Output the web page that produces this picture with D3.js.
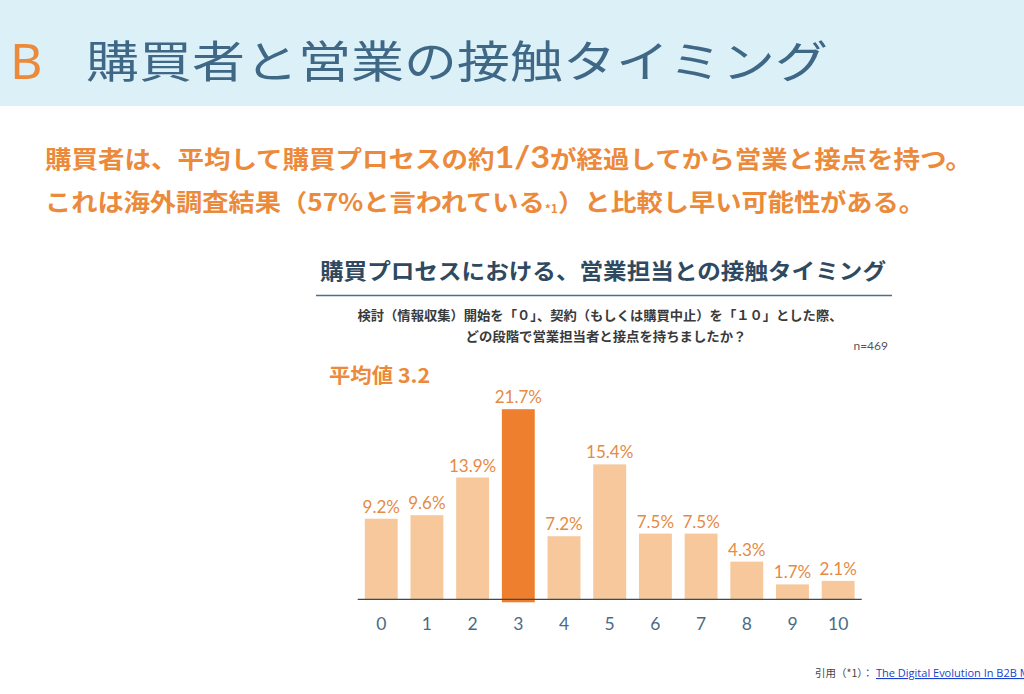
<!DOCTYPE html>
<html><head><meta charset="utf-8">
<script src="https://cdn.jsdelivr.net/npm/d3@7"></script>
<style>
html,body{margin:0;padding:0;background:#fff;overflow:hidden;}
svg{display:block;}
</style></head>
<body>
<svg id="c" width="1024" height="694"></svg>
<script>
const categories = ["0","1","2","3","4","5","6","7","8","9","10"];
const values = [9.2, 9.6, 13.9, 21.7, 7.2, 15.4, 7.5, 7.5, 4.3, 1.7, 2.1];
const valueLabels = ["9.2%","9.6%","13.9%","21.7%","7.2%","15.4%","7.5%","7.5%","4.3%","1.7%","2.1%"];
const highlightCategory = "3";
const headerLetter = "B";
const headerTitle = "購買者と営業の接触タイミング";
const leadLines = ["購買者は、平均して購買プロセスの約", "これは海外調査結果（57%と言われている"];
const chartTitle = "購買プロセスにおける、営業担当との接触タイミング";
const questionLines = ["検討（情報収集）開始を「０」、契約（もしくは購買中止）を「１０」とした際、", "どの段階で営業担当者と接点を持ちましたか？"];
const sampleNote = "n=469";
const meanNote = "平均値 3.2";

const svg = d3.select("#c");
const JP = "'Noto Sans CJK JP','Noto Sans',sans-serif";
const NUM = "Lato,'Noto Sans CJK JP',sans-serif";
const ORANGE = "#ec8a3c";

// Header banner
svg.append("rect").attr("x",0).attr("y",0).attr("width",1024).attr("height",106).attr("fill","#dcf0f8");
svg.append("text").attr("x",10).attr("y",79).attr("font-family","'Noto Sans','Open Sans',sans-serif")
  .attr("font-size",50).attr("fill","#ec8a3c").text(headerLetter);
svg.append("text").attr("x",86).attr("y",78).attr("font-family",JP).attr("font-size",44)
  .attr("fill","#3f6886").attr("textLength",742).attr("lengthAdjust","spacingAndGlyphs").text(headerTitle);

// Lead text
const l1 = svg.append("text").attr("x",45).attr("y",168).attr("font-family",JP).attr("font-weight","bold")
  .attr("font-size",24).attr("fill",ORANGE).attr("textLength",927).attr("lengthAdjust","spacingAndGlyphs");
l1.append("tspan").text(leadLines[0]);
l1.append("tspan").attr("font-size",31).attr("font-family",NUM).text("1/3");
l1.append("tspan").text("が経過してから営業と接点を持つ。");
const l2 = svg.append("text").attr("x",45).attr("y",211).attr("font-family",JP).attr("font-weight","bold")
  .attr("font-size",24).attr("fill",ORANGE).attr("textLength",880).attr("lengthAdjust","spacingAndGlyphs");
l2.append("tspan").text(leadLines[1]);
l2.append("tspan").attr("font-size",11).attr("dy",2).text("*1");
l2.append("tspan").attr("dy",-2).text("）と比較し早い可能性がある。");

// Chart title
svg.append("text").attr("x",603).attr("y",279).attr("text-anchor","middle").attr("font-family",JP)
  .attr("font-weight","bold").attr("font-size",22).attr("fill","#2f4a60")
  .attr("textLength",566).attr("lengthAdjust","spacingAndGlyphs").text(chartTitle);
svg.append("line").attr("x1",316).attr("x2",892).attr("y1",295.5).attr("y2",295.5)
  .attr("stroke","#4d6f8a").attr("stroke-width",1.5);
svg.append("text").attr("x",600).attr("y",320).attr("text-anchor","middle").attr("font-family",JP)
  .attr("font-size",13).attr("font-weight","bold").attr("fill","#3a3a3a")
  .attr("textLength",485).attr("lengthAdjust","spacingAndGlyphs").text(questionLines[0]);
svg.append("text").attr("x",606).attr("y",341).attr("text-anchor","middle").attr("font-family",JP)
  .attr("font-size",13).attr("font-weight","bold").attr("fill","#3a3a3a")
  .attr("textLength",281).attr("lengthAdjust","spacingAndGlyphs").text(questionLines[1]);
svg.append("text").attr("x",888).attr("y",350).attr("text-anchor","end").attr("font-family",NUM)
  .attr("font-size",12).attr("fill","#555").text(sampleNote);
svg.append("text").attr("x",329).attr("y",383).attr("font-family",JP).attr("font-weight","bold")
  .attr("font-size",20).attr("fill",ORANGE).attr("textLength",101).attr("lengthAdjust","spacingAndGlyphs").text(meanNote);

// Bars
const x = d3.scaleBand().domain(categories).range([357.7, 861.7]).paddingInner(0.28).paddingOuter(0.155);
const y = d3.scaleLinear().domain([0, 25]).range([599.3, 599.3 - 25*8.76]);
const data = categories.map((c,i)=>({c, v:values[i], label:valueLabels[i]}));

svg.append("g").selectAll("rect").data(data).join("rect")
  .attr("x",d=>x(d.c)).attr("width",x.bandwidth())
  .attr("y",d=>y(d.v))
  .attr("height",d=>y(0)-y(d.v) + (d.c===highlightCategory?3:0))
  .attr("fill",d=>d.c===highlightCategory?"#ee7f2e":"#f6c89c");

svg.append("g").selectAll("text").data(data).join("text")
  .attr("x",d=>x(d.c)+x.bandwidth()/2).attr("y",d=>y(d.v)-6)
  .attr("text-anchor","middle").attr("font-family",NUM).attr("font-size",17)
  .attr("fill","#e58a45").text(d=>d.label);

// Axis
const axis = svg.append("g").attr("transform",`translate(0,${y(0)})`)
  .call(d3.axisBottom(x).tickSize(0).tickPadding(18));
axis.select(".domain").attr("stroke","#3a4a58").attr("stroke-width",1.3).attr("d","M357.7,0H861.7");
axis.selectAll("text").attr("font-family",NUM).attr("font-size",17.5).attr("fill","#4d6a85");

// Footer
svg.append("text").attr("x",815).attr("y",677).attr("font-family",JP).attr("font-size",10.5).attr("fill","#444")
  .text("引用（*1）：");
svg.append("text").attr("x",876).attr("y",677).attr("font-family","'Open Sans',sans-serif").attr("font-size",11)
  .attr("fill","#1a3fcc").attr("text-decoration","underline").text("The Digital Evolution In B2B Marketing");
</script>
</body></html>
